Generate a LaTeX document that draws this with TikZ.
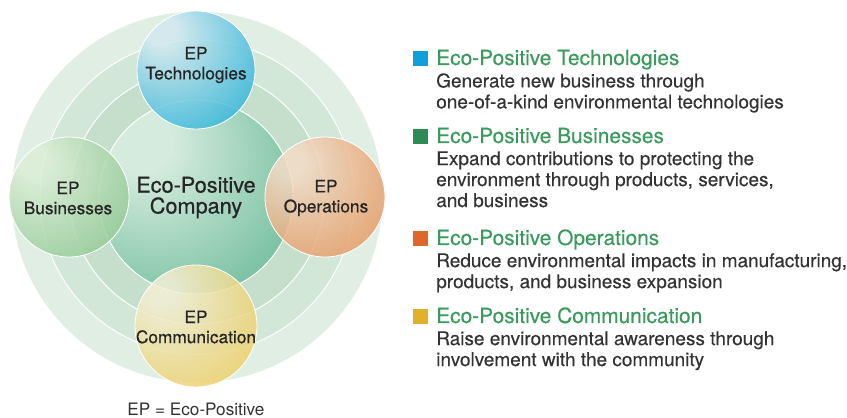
\documentclass[tikz,border=0pt]{standalone}
\usepackage{fontspec}
\setmainfont{TeX Gyre Heros}
\newfontfamily\medium[FakeBold=0.6]{TeX Gyre Heros}
\newfontfamily\semimedium[FakeBold=0.3]{TeX Gyre Heros}
\usetikzlibrary{positioning}

\definecolor{ringA}{HTML}{E1EEE4}
\definecolor{ringB}{HTML}{D3E7D9}
\definecolor{ringC}{HTML}{C5DFCC}
\definecolor{coreLight}{HTML}{D4EBDD}
\definecolor{coreDark}{HTML}{4FAD86}
\definecolor{techLight}{HTML}{D2E9F0}
\definecolor{techDark}{HTML}{00A5D5}
\definecolor{busLight}{HTML}{DCEED7}
\definecolor{busDark}{HTML}{78BC7C}
\definecolor{opsLight}{HTML}{F4DCC8}
\definecolor{opsDark}{HTML}{E0803C}
\definecolor{comLight}{HTML}{F3EFD6}
\definecolor{comDark}{HTML}{EAC23C}
\definecolor{keyBlue}{HTML}{109FD8}
\definecolor{keyGreen}{HTML}{2F8B55}
\definecolor{keyOrange}{HTML}{E0672A}
\definecolor{keyYellow}{HTML}{E0B22A}
\definecolor{titleGreen}{HTML}{3A9A5C}
\definecolor{bodyGray}{HTML}{333333}

\pgfdeclareradialshading{coreshade}{\pgfpoint{-16bp}{16bp}}{color(0bp)=(coreLight); color(8bp)=(coreLight); color(50bp)=(coreDark); color(70bp)=(coreDark)}
\pgfdeclareradialshading{techshade}{\pgfpoint{-16bp}{18bp}}{color(0bp)=(techLight); color(6bp)=(techLight); color(48bp)=(techDark); color(70bp)=(techDark)}
\pgfdeclareradialshading{busshade}{\pgfpoint{-16bp}{16bp}}{color(0bp)=(busLight); color(6bp)=(busLight); color(50bp)=(busDark); color(70bp)=(busDark)}
\pgfdeclareradialshading{opsshade}{\pgfpoint{-16bp}{16bp}}{color(0bp)=(opsLight); color(6bp)=(opsLight); color(50bp)=(opsDark); color(70bp)=(opsDark)}
\pgfdeclareradialshading{comshade}{\pgfpoint{-16bp}{16bp}}{color(0bp)=(comLight); color(6bp)=(comLight); color(50bp)=(comDark); color(70bp)=(comDark)}

\tikzset{
	ringline/.style={draw=white, line width=0.7pt},
	bubble/.style={draw=white, line width=0.6pt, fill opacity=0.85},
	bubblelabel/.style={font=\medium\fontsize{12.3}{14.2}\selectfont, text=black!85, align=center},
	keybox/.style={minimum size=0.375cm, inner sep=0pt},
	keytitle/.style={font=\semimedium\fontsize{14.85}{16}\selectfont, text=titleGreen, inner sep=0pt, anchor=base west},
	keytext/.style={font=\semimedium\fontsize{13.5}{14.9}\selectfont, text=bodyGray, inner sep=0pt, align=left}
}

\begin{document}
\begin{tikzpicture}[x=0.025cm, y=0.025cm]
			%%%%% START %%%%%
			\useasboundingbox (0, 0) rectangle (847, 418);
			
			\draw[ringline, fill=ringA] (197, 221) circle (186);
			\draw[ringline, fill=ringB] (197, 221) circle (157);
			\draw[ringline, fill=ringC] (197, 221) circle (127);
			
			\shade[shading=coreshade, draw=white, line width=0.7pt] (196, 221) circle (97);
			
			\shade[bubble, shading=techshade] (196, 348) circle (59);
			\shade[bubble, shading=busshade] (69, 221) circle (60);
			\shade[bubble, shading=opsshade] (325, 221) circle (60);
			\shade[bubble, shading=comshade] (196, 92) circle (61);
			
			\node[font=\medium\fontsize{15.4}{14.9}\selectfont, text=black!85, align=center] (core) at (196, 220.5) {Eco-Positive\\Company};
			\node[bubblelabel] (tech) at (196, 353) {EP\\Technologies};
			\node[bubblelabel] (bus) at (68, 220) {EP\\Businesses};
			\node[bubblelabel] (ops) at (326, 220) {EP\\Operations};
			\node[bubblelabel] (com) at (196, 91) {EP\\Communication};
			
			\node[font=\fontsize{12.2}{14}\selectfont, text=bodyGray, anchor=base] (note) at (196, 2) {EP = Eco-Positive};
			
			% key
			\node[keybox, fill=keyBlue] (techkey) at (420.5, 359) {};
			\node[keytitle] (techtitle) at (436, 353) {Eco-Positive Technologies};
			\node[keytext, below right=0.2cm and 0cm of techtitle.base west] (techdesc) {Generate new business through\\one-of-a-kind environmental technologies};
			
			\node[keybox, fill=keyGreen] (buskey) at (420.5, 281) {};
			\node[keytitle] (bustitle) at (436, 275) {Eco-Positive Businesses};
			\node[keytext, below right=0.2cm and 0cm of bustitle.base west] (busdesc) {Expand contributions to protecting the\\environment through products, services,\\and business};
			
			\node[keybox, fill=keyOrange] (opskey) at (420.5, 179) {};
			\node[keytitle] (opstitle) at (436, 173) {Eco-Positive Operations};
			\node[keytext, below right=0.2cm and 0cm of opstitle.base west] (opsdesc) {Reduce environmental impacts in manufacturing,\\products, and business expansion};
			
			\node[keybox, fill=keyYellow] (comkey) at (420.5, 101) {};
			\node[keytitle] (comtitle) at (436, 95) {Eco-Positive Communication};
			\node[keytext, below right=0.2cm and 0cm of comtitle.base west] (comdesc) {Raise environmental awareness through\\involvement with the community};
			%%%%% END %%%%%
\end{tikzpicture}
\end{document}
